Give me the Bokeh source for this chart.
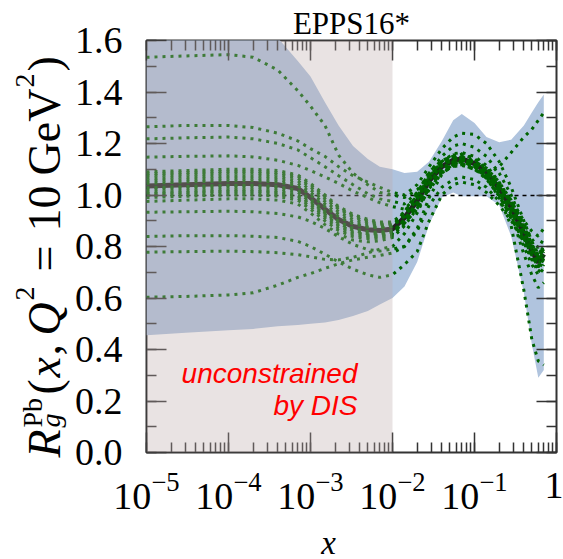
import math
from bokeh.plotting import figure
from bokeh.models import (LogAxis, LinearAxis, LogTicker, SingleIntervalTicker,
                          PrintfTickFormatter, CustomJSTickFormatter, Label,
                          BoxAnnotation, Range1d)
from bokeh.layouts import column, row
from bokeh.embed import file_html
from bokeh.resources import INLINE

# ---------------- data ----------------
x_nodes = [1e-5, 3e-5, 1e-4, 2e-4, 4e-4, 7e-4, 1e-3, 1.5e-3, 2.2e-3, 3.3e-3, 5e-3, 7e-3,
           1e-2, 1.4e-2, 2e-2, 2.8e-2, 4e-2, 5.5e-2, 7e-2, 0.1, 0.14, 0.2, 0.28, 0.4, 0.5, 0.6, 0.7]

central = [1.035, 1.040, 1.045, 1.045, 1.040, 1.025, 0.990, 0.945, 0.905, 0.878, 0.865, 0.862,
           0.868, 0.912, 0.978, 1.055, 1.110, 1.135, 1.140, 1.122, 1.088, 1.025, 0.953, 0.850, 0.784, 0.738, 0.770]

band_hi = [1.90, 1.90, 1.85, 1.75, 1.61, 1.52, 1.46, 1.36, 1.27, 1.19, 1.14, 1.11,
           1.10, 1.085, 1.09, 1.13, 1.21, 1.29, 1.315, 1.28, 1.225, 1.205, 1.215, 1.27, 1.32, 1.36, 1.39]
band_lo = [0.455, 0.465, 0.475, 0.480, 0.490, 0.495, 0.500, 0.505, 0.515, 0.530, 0.550, 0.575,
           0.600, 0.645, 0.740, 0.885, 0.990, 1.010, 0.995, 0.995, 0.995, 0.960, 0.840, 0.620, 0.420, 0.290, 0.320]

err_a = [1.535, 1.540, 1.545, 1.535, 1.485, 1.405, 1.345, 1.270, 1.155, 1.085, 1.040, 1.010,
         1.000, 0.990, 1.020, 1.075, 1.120, 1.140, 1.138, 1.112, 1.075, 1.110, 1.165, 1.225, 1.255, 1.290, 1.320]
err_b = [1.265, 1.270, 1.270, 1.262, 1.240, 1.210, 1.180, 1.150, 1.110, 1.075, 1.050, 1.030,
         1.010, 1.000, 1.040, 1.110, 1.180, 1.225, 1.240, 1.235, 1.200, 1.130, 1.030, 0.900, 0.820, 0.770, 0.800]
err_c = [1.218, 1.222, 1.225, 1.218, 1.200, 1.175, 1.145, 1.110, 1.075, 1.040, 1.005, 0.985,
         0.975, 0.965, 1.010, 1.085, 1.150, 1.190, 1.200, 1.185, 1.150, 1.085, 1.000, 0.880, 0.810, 0.760, 0.790]
err_d = [1.147, 1.150, 1.152, 1.148, 1.135, 1.115, 1.095, 1.070, 1.045, 1.015, 0.990, 0.970,
         0.955, 0.945, 0.995, 1.070, 1.130, 1.160, 1.165, 1.150, 1.115, 1.050, 0.975, 0.870, 0.805, 0.760, 0.790]
err_e = [0.933, 0.935, 0.937, 0.935, 0.928, 0.915, 0.898, 0.870, 0.838, 0.808, 0.788, 0.782,
         0.790, 0.800, 0.860, 0.960, 1.030, 1.060, 1.070, 1.060, 1.030, 0.975, 0.910, 0.820, 0.760, 0.720, 0.750]
err_f = [0.839, 0.842, 0.842, 0.840, 0.835, 0.820, 0.800, 0.770, 0.740, 0.712, 0.690, 0.680,
         0.690, 0.730, 0.780, 0.900, 1.000, 1.040, 1.050, 1.040, 1.010, 0.960, 0.900, 0.830, 0.790, 0.770, 0.800]
err_g = [0.778, 0.780, 0.782, 0.780, 0.776, 0.768, 0.760, 0.750, 0.748, 0.758, 0.775, 0.790,
         0.800, 0.850, 0.930, 1.030, 1.090, 1.110, 1.115, 1.100, 1.075, 1.030, 0.980, 0.900, 0.860, 0.840, 0.870]
err_h = [0.603, 0.606, 0.612, 0.620, 0.650, 0.680, 0.695, 0.715, 0.733, 0.748, 0.758, 0.765,
         0.775, 0.800, 0.870, 0.990, 1.080, 1.120, 1.130, 1.110, 1.065, 0.990, 0.880, 0.630, 0.440, 0.355, 0.340]
err_n1 = [1.090, 1.095, 1.100, 1.100, 1.095, 1.078, 1.045, 1.000, 0.955, 0.925, 0.905, 0.895,
          0.895, 0.935, 1.000, 1.075, 1.130, 1.155, 1.160, 1.142, 1.105, 1.045, 0.970, 0.870, 0.805, 0.765, 0.795]
err_n2 = [1.075, 1.080, 1.085, 1.085, 1.080, 1.065, 1.030, 0.985, 0.945, 0.915, 0.895, 0.885,
          0.885, 0.925, 0.990, 1.065, 1.118, 1.142, 1.148, 1.130, 1.095, 1.032, 0.960, 0.860, 0.795, 0.748, 0.780]
err_n3 = [1.055, 1.060, 1.065, 1.065, 1.060, 1.045, 1.010, 0.965, 0.925, 0.895, 0.880, 0.875,
          0.878, 0.918, 0.982, 1.058, 1.112, 1.137, 1.142, 1.125, 1.090, 1.028, 0.955, 0.852, 0.786, 0.740, 0.772]
err_n4 = [1.020, 1.025, 1.030, 1.030, 1.025, 1.010, 0.975, 0.930, 0.890, 0.862, 0.850, 0.848,
          0.856, 0.905, 0.972, 1.050, 1.105, 1.130, 1.135, 1.118, 1.083, 1.020, 0.948, 0.845, 0.780, 0.732, 0.765]
err_n5 = [1.005, 1.010, 1.015, 1.015, 1.010, 0.995, 0.962, 0.918, 0.878, 0.852, 0.842, 0.842,
          0.850, 0.895, 0.962, 1.040, 1.098, 1.125, 1.130, 1.112, 1.075, 1.010, 0.935, 0.830, 0.765, 0.720, 0.752]
err_n6 = [0.990, 0.995, 1.000, 1.000, 0.995, 0.980, 0.945, 0.900, 0.862, 0.838, 0.830, 0.832,
          0.842, 0.888, 0.955, 1.032, 1.090, 1.118, 1.125, 1.108, 1.070, 1.002, 0.925, 0.770, 0.690, 0.640, 0.660]
err_n7 = [0.975, 0.980, 0.985, 0.985, 0.980, 0.965, 0.930, 0.885, 0.848, 0.825, 0.818, 0.822,
          0.835, 0.880, 0.948, 1.025, 1.085, 1.112, 1.118, 1.100, 1.062, 0.995, 0.915, 0.800, 0.730, 0.690, 0.715]
err_m1 = [1.045, 1.050, 1.055, 1.055, 1.050, 1.035, 1.000, 0.955, 0.915, 0.888, 0.875, 0.872,
          0.878, 0.935, 1.010, 1.090, 1.135, 1.150, 1.145, 1.118, 1.075, 1.005, 0.925, 0.815, 0.752, 0.712, 0.745]
err_m2 = [1.028, 1.033, 1.038, 1.038, 1.033, 1.018, 0.983, 0.938, 0.898, 0.870, 0.858, 0.855,
          0.862, 0.890, 0.945, 1.020, 1.085, 1.120, 1.135, 1.130, 1.105, 1.050, 0.980, 0.880, 0.810, 0.760, 0.790]
err_m3 = [1.065, 1.070, 1.075, 1.075, 1.070, 1.055, 1.020, 0.975, 0.935, 0.905, 0.888, 0.880,
          0.882, 0.920, 0.990, 1.070, 1.125, 1.150, 1.158, 1.140, 1.100, 1.040, 0.965, 0.862, 0.798, 0.750, 0.780]
err_m4 = [1.010, 1.015, 1.020, 1.020, 1.015, 1.000, 0.968, 0.924, 0.884, 0.857, 0.846, 0.845,
          0.853, 0.900, 0.960, 1.035, 1.092, 1.118, 1.122, 1.102, 1.065, 0.998, 0.920, 0.815, 0.748, 0.700, 0.730]
err_m5 = [1.082, 1.087, 1.092, 1.092, 1.087, 1.072, 1.038, 0.993, 0.950, 0.920, 0.900, 0.890,
          0.890, 0.915, 0.985, 1.065, 1.120, 1.145, 1.150, 1.132, 1.098, 1.040, 0.975, 0.885, 0.830, 0.795, 0.830]
err_m6 = [0.998, 1.003, 1.008, 1.008, 1.003, 0.988, 0.954, 0.910, 0.870, 0.845, 0.836, 0.837,
          0.846, 0.905, 0.968, 1.045, 1.100, 1.128, 1.135, 1.118, 1.080, 1.015, 0.940, 0.835, 0.770, 0.725, 0.755]

error_sets = [err_a, err_b, err_c, err_d, err_e, err_f, err_g, err_h,
              err_n1, err_n2, err_n3, err_n4, err_n5, err_n6, err_n7,
              err_m1, err_m2, err_m3, err_m4, err_m5, err_m6]

ref_level = [1.0]
dis_limit = 1e-2          # below this x: unconstrained by DIS
x_limits = (1e-5, 1.0)
y_limits = (0.0, 1.6)
last_tick_label = {1: "1"}
title_text = "EPPS16*"
x_title = "x"

SERIF = "Liberation Serif"
SANS = "Liberation Sans"


def strip(w, h):
    f = figure(width=w, height=h, x_range=Range1d(0, w), y_range=Range1d(0, h),
               output_backend="svg", toolbar_location=None, min_border=0,
               x_axis_location=None, y_axis_location=None, frame_align=False)
    f.grid.visible = False
    f.outline_line_color = None
    f.background_fill_color = "white"
    f.border_fill_color = "white"
    return f


def put(fig, txt, sx, sy, size, style="normal", angle=0.0, align="left"):
    fig.add_layout(Label(x=sx, y=sy, x_units="screen", y_units="screen", text=txt,
                         angle=angle, text_font=SERIF, text_font_style=style,
                         text_font_size=size, text_color="black",
                         text_align=align, text_baseline="alphabetic"))


# ---------------- main figure (canvas x 70..563, y 0..519) ----------------
p = figure(width=493, height=519, x_axis_type="log",
           x_range=Range1d(*x_limits), y_range=Range1d(*y_limits),
           output_backend="svg", toolbar_location=None, min_border=0,
           min_border_left=76, min_border_right=7, min_border_top=40, min_border_bottom=67,
           frame_align=False)
p.title.text = title_text
p.title.align = "center"
p.title.text_font = SERIF
p.title.text_font_size = "31px"
p.title.text_font_style = "normal"
p.title.text_color = "black"
p.title.standoff = 0
p.grid.visible = False
p.background_fill_color = "white"
p.border_fill_color = "white"
p.outline_line_color = "#333333"
p.outline_line_width = 2


def style_axis(ax):
    ax.axis_line_color = None
    ax.major_tick_in = 20
    ax.major_tick_out = 0
    ax.minor_tick_in = 10
    ax.minor_tick_out = 0
    ax.major_tick_line_color = "#333333"
    ax.minor_tick_line_color = "#333333"
    ax.major_tick_line_width = 1.5
    ax.minor_tick_line_width = 1.5


xa = p.xaxis[0]
style_axis(xa)
xa.ticker = LogTicker(num_minor_ticks=10)
xa.major_label_overrides = last_tick_label
xa.major_label_text_font = SERIF
xa.major_label_text_font_size = "38px"
xa.major_label_text_color = "black"
xa.major_label_standoff = 20

ya = p.yaxis[0]
style_axis(ya)
ya.ticker = SingleIntervalTicker(interval=0.2, num_minor_ticks=2)
ya.formatter = PrintfTickFormatter(format="%.1f")
ya.major_label_text_font = SERIF
ya.major_label_text_font_size = "38px"
ya.major_label_text_color = "black"
ya.major_label_standoff = 24

blank = CustomJSTickFormatter(code="return ''")
top = LogAxis(ticker=LogTicker(num_minor_ticks=10), formatter=blank,
              major_label_standoff=0, major_label_text_font_size="0px")
style_axis(top)
p.add_layout(top, "above")
right = LinearAxis(ticker=SingleIntervalTicker(interval=0.2, num_minor_ticks=2),
                   formatter=blank, major_label_standoff=0, major_label_text_font_size="0px")
style_axis(right)
p.add_layout(right, "right")

p.varea(x=x_nodes, y1=band_lo, y2=band_hi, fill_color="#b0c4de", fill_alpha=1.0)
p.hspan(y=ref_level, line_color="black", line_dash="4 4", line_width=1.5)
p.line(x_nodes, central, line_color="#222222", line_width=5)
for errs in error_sets:
    p.line(x_nodes, errs, line_color="#006400", line_width=3, line_dash="3 5")

p.add_layout(BoxAnnotation(right=dis_limit, fill_color="#bcaaaa", fill_alpha=0.33,
                           line_color=None))

p.add_layout(Label(x=211, y=79, x_units="screen", y_units="screen", text="unconstrained",
                   text_font=SANS, text_font_style="italic", text_font_size="28px",
                   text_color="red", text_align="right", text_baseline="alphabetic"))
p.add_layout(Label(x=211, y=47, x_units="screen", y_units="screen", text="by DIS",
                   text_font=SANS, text_font_style="italic", text_font_size="28px",
                   text_color="red", text_align="right", text_baseline="alphabetic"))

# ---------------- y-label strip (canvas x 0..70, y 0..559) ----------------
yl = strip(70, 559)
ylabel_pieces = [
    ("R", "46px", "italic", 44, 457),
    ("Pb", "28px", "normal", 32, 427),
    ("g", "28px", "italic", 50, 427),
    ("(", "46px", "normal", 44, 394),
    ("x", "46px", "italic", 44, 377),
    (",", "46px", "normal", 44, 355),
    ("Q", "46px", "italic", 44, 335),
    ("2", "28px", "normal", 24, 300),
    ("=", "46px", "normal", 44, 271),
    ("10", "46px", "normal", 44, 231),
    ("GeV", "46px", "normal", 44, 175),
    ("2", "28px", "normal", 24, 87),
    (")", "46px", "normal", 44, 71),
]
for txt, size, style, cx, cy in ylabel_pieces:
    put(yl, txt, cx, 559 - cy, size, style=style, angle=math.pi / 2)

# ---------------- x-label strip (canvas x 70..563, y 519..559) ----------------
xl = strip(493, 40)
put(xl, x_title, 258, 17, "33px", style="italic", align="center")

layout = row(yl, column(p, xl))
open("out.html", "w").write(file_html(layout, INLINE))
